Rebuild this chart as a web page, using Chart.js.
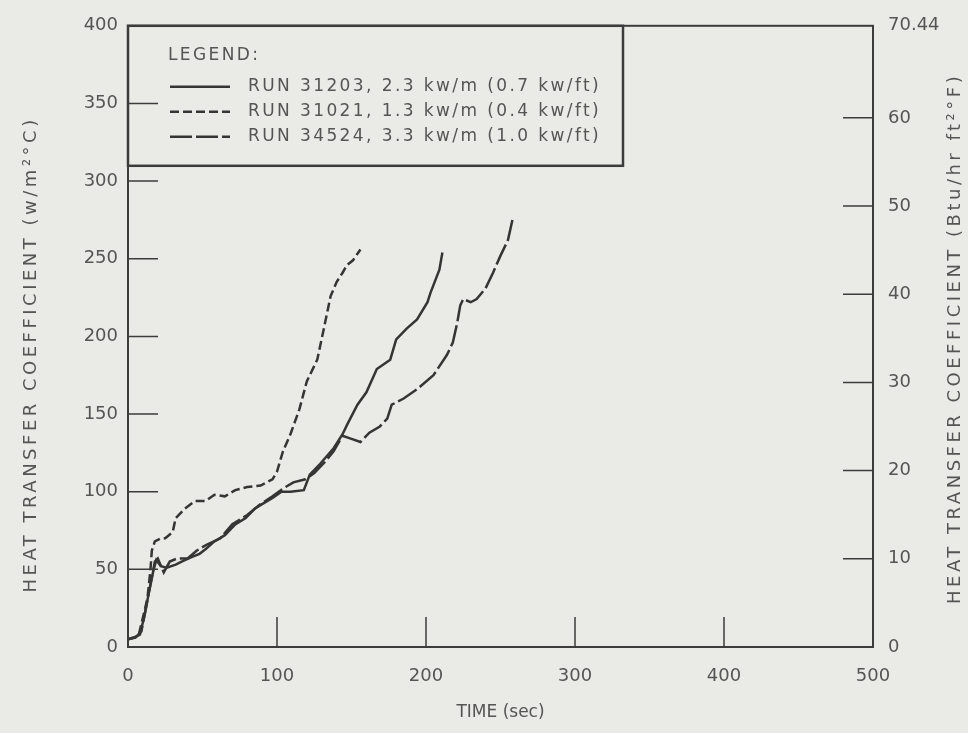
<!DOCTYPE html>
<html>
<head>
<meta charset="utf-8">
<script src="https://cdn.jsdelivr.net/npm/chart.js@4.4.1/dist/chart.umd.min.js"></script>
<style>
    html, body { margin: 0; padding: 0; background: #eaeae7; }
</style>
</head>
<body>
<canvas id="graficoCoeficiente" width="968" height="733"></canvas>
<script>
// tempos (s) e coeficientes (w/m2 oC)
const tempo31203 = [0, 4, 8, 11, 14, 17, 19, 22, 26, 32, 36, 43, 48, 52, 58, 65, 72, 79, 85, 90, 97, 103, 109, 118, 122, 129, 138, 144, 147, 154, 160, 167, 176, 180, 187, 194, 201, 203, 209, 211];
const coef31203 = [5, 6, 8, 20, 35, 49, 56, 52, 51, 53, 55, 58, 60, 63, 68, 72, 79, 83, 89, 92, 96, 100, 100, 101, 111, 118, 128, 137, 143, 156, 164, 179, 185, 198, 205, 211, 222, 228, 243, 254];

const tempo31021 = [0, 3, 7, 10, 13, 15, 16, 18, 22, 25, 30, 32, 38, 45, 52, 58, 65, 72, 80, 89, 97, 100, 104, 109, 115, 120, 127, 131, 136, 140, 144, 147, 151, 156];
const coef31021 = [5, 6, 7, 19, 31, 49, 62, 68, 70, 70, 74, 83, 89, 94, 94, 98, 97, 101, 103, 104, 108, 113, 126, 137, 153, 171, 185, 203, 226, 235, 241, 246, 249, 256];

const tempo34524 = [0, 5, 9, 12, 15, 18, 20, 24, 28, 33, 40, 46, 53, 62, 70, 80, 89, 97, 104, 111, 119, 125, 132, 138, 144, 150, 156, 162, 169, 174, 177, 185, 194, 205, 214, 218, 221, 223, 225, 230, 234, 240, 245, 250, 255, 258];
const coef34524 = [5, 6, 10, 25, 40, 55, 57, 48, 55, 57, 57, 62, 66, 70, 79, 85, 92, 97, 102, 106, 108, 112, 119, 126, 136, 134, 132, 138, 142, 147, 156, 160, 166, 175, 188, 196, 209, 220, 224, 222, 224, 231, 241, 252, 262, 275];

const ticksDireita = [0, 10, 20, 30, 40, 50, 60, 70.44];

const corLinha = '#353535';
const corTexto = '#555555';
const fonte = { family: 'DejaVu Sans', size: 18 };
const fonteTitulo = { family: 'DejaVu Sans', size: 18 };

function pontos(tempos, valores) {
    return tempos.map((t, i) => ({ x: t, y: valores[i] }));
}

// titulo vertical, lido de baixo para cima nos dois eixos, com letras espaçadas
function tituloVertical(scale, lado, desvio) {
    if (scale._titulo) return;
    scale.drawTitle = function () {
        const c = this.ctx;
        const t = this.options.title;
        const f = Chart.helpers.toFont(t.font);
        const x = lado === 'left' ? this.left + t.padding.top + f.lineHeight / 2
                                  : this.right - t.padding.top - f.lineHeight / 2;
        c.save();
        c.letterSpacing = '3.5px';
        c.translate(x, (this.top + this.bottom) / 2 + desvio);
        c.rotate(-Math.PI / 2);
        c.font = f.string;
        c.fillStyle = t.color;
        c.textAlign = 'center';
        c.textBaseline = 'middle';
        c.fillText(t.text, 0, 0);
        c.restore();
    };
    scale._titulo = true;
}

// moldura, marcas internas e legenda
const moldura = {
    id: 'moldura',
    afterDatasetsDraw(chart) {
        const { ctx, chartArea: a, scales } = chart;
        ctx.save();
        ctx.strokeStyle = '#3c3c3c';
        ctx.lineWidth = 2;
        ctx.strokeRect(a.left, a.top, a.right - a.left, a.bottom - a.top);

        ctx.lineWidth = 1.5;
        ctx.beginPath();
        scales.y.ticks.forEach(t => {
            if (t.value <= 0 || t.value >= 400) return;
            const py = scales.y.getPixelForValue(t.value);
            ctx.moveTo(a.left, py);
            ctx.lineTo(a.left + 30, py);
        });
        scales.y2.ticks.forEach(t => {
            if (t.value <= 0 || t.value >= 70) return;
            const py = scales.y2.getPixelForValue(t.value);
            ctx.moveTo(a.right, py);
            ctx.lineTo(a.right - 30, py);
        });
        scales.x.ticks.forEach(t => {
            if (t.value <= 0 || t.value >= 500) return;
            const px = scales.x.getPixelForValue(t.value);
            ctx.moveTo(px, a.bottom);
            ctx.lineTo(px, a.bottom - 30);
        });
        ctx.stroke();

        // caixa da legenda
        ctx.lineWidth = 2.5;
        ctx.strokeRect(a.left, a.top, 495, 140);

        ctx.letterSpacing = '2.4px';
        ctx.font = '17px "DejaVu Sans"';
        ctx.fillStyle = corTexto;
        ctx.textBaseline = 'middle';
        ctx.fillText('LEGEND:', a.left + 40, a.top + 30);
        chart.data.datasets.forEach((ds, i) => {
            const yy = a.top + 61 + i * 25;
            ctx.strokeStyle = ds.borderColor;
            ctx.lineWidth = 2.5;
            ctx.setLineDash(ds.borderDash || []);
            ctx.beginPath();
            ctx.moveTo(a.left + 42, yy);
            ctx.lineTo(a.left + 102, yy);
            ctx.stroke();
            ctx.setLineDash([]);
            ctx.fillText(ds.label, a.left + 120, yy);
        });
        ctx.restore();
    }
};

const ctx = document.getElementById('graficoCoeficiente');

new Chart(ctx, {
    type: 'line',
    data: {
        datasets: [{
            label: 'RUN 31203, 2.3 kw/m (0.7 kw/ft)',
            data: pontos(tempo31203, coef31203),
            borderColor: corLinha,
            borderWidth: 2.5,
            borderDash: [],
            pointRadius: 0
        }, {
            label: 'RUN 31021, 1.3 kw/m (0.4 kw/ft)',
            data: pontos(tempo31021, coef31021),
            borderColor: corLinha,
            borderWidth: 2.5,
            borderDash: [9, 4],
            pointRadius: 0
        }, {
            label: 'RUN 34524, 3.3 kw/m (1.0 kw/ft)',
            data: pontos(tempo34524, coef34524),
            borderColor: corLinha,
            borderWidth: 2.5,
            borderDash: [22, 4],
            pointRadius: 0
        }]
    },
    options: {
        responsive: false,
        animation: false,
        layout: { padding: { top: 22, left: 0, right: 0, bottom: 0 } },
        plugins: {
            legend: { display: false },
            tooltip: { enabled: false }
        },
        scales: {
            x: {
                type: 'linear',
                min: 0,
                max: 500,
                grid: { display: false, drawTicks: false },
                border: { display: false },
                ticks: { stepSize: 100, padding: 19, color: corTexto, font: fonte, maxRotation: 0 },
                title: { display: true, text: 'TIME (sec)', color: corTexto, font: { family: 'DejaVu Sans', size: 17 }, padding: { top: 0, bottom: 10 } },
                afterFit: s => { s.height = 86; }
            },
            y: {
                position: 'left',
                min: 0,
                max: 400,
                grid: { display: false, drawTicks: false },
                border: { display: false },
                ticks: { stepSize: 50, padding: 10, color: corTexto, font: fonte },
                title: { display: true, text: 'HEAT TRANSFER COEFFICIENT (w/m²°C)', color: corTexto, font: fonteTitulo, padding: { top: 21, bottom: 0 } },
                afterFit: s => { s.width = 128; tituloVertical(s, 'left', 18); }
            },
            y2: {
                position: 'right',
                min: 0,
                max: 70.44,
                grid: { display: false, drawTicks: false },
                border: { display: false },
                afterBuildTicks: s => { s.ticks = ticksDireita.map(v => ({ value: v })); },
                ticks: { padding: 15, color: corTexto, font: fonte, callback: v => v },
                title: { display: true, text: 'HEAT TRANSFER COEFFICIENT (Btu/hr ft²°F)', color: corTexto, font: fonteTitulo, padding: { top: 2, bottom: 0 } },
                afterFit: s => { s.width = 95; tituloVertical(s, 'right', 2); }
            }
        }
    },
    plugins: [moldura]
});
</script>
</body>
</html>
